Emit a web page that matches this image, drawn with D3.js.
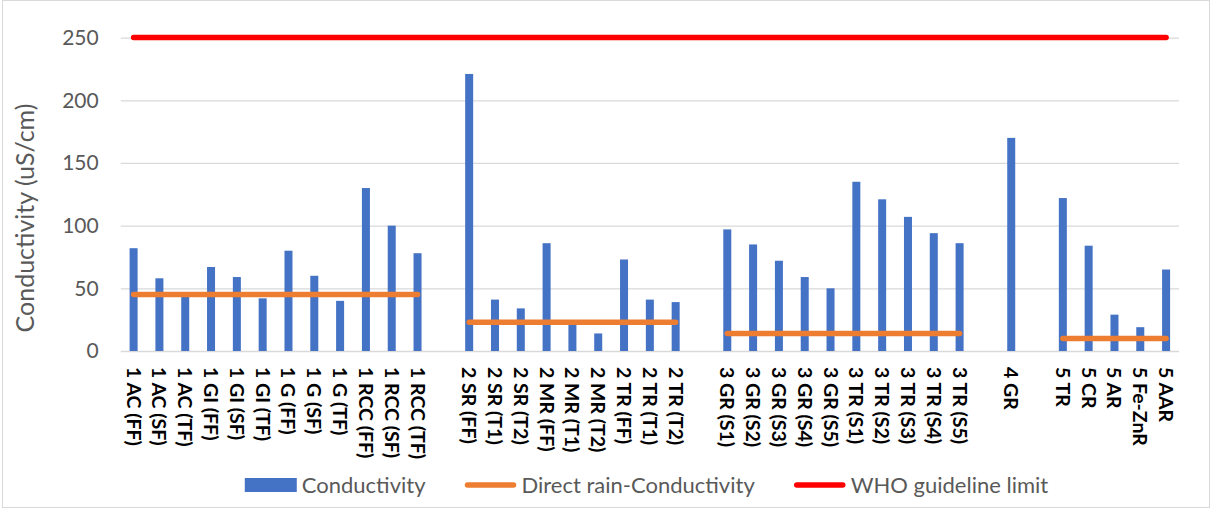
<!DOCTYPE html>
<html>
<head>
<meta charset="utf-8">
<script src="https://cdn.jsdelivr.net/npm/d3@7"></script>
<style>
  html, body { margin: 0; padding: 0; background: #fff; }
  svg { display: block; font-family: Lato, "Open Sans", sans-serif; }
</style>
</head>
<body>
<svg id="chart" width="1212" height="509"></svg>
<script>
// Sample sites (blank entries separate the site groups)
const categories = [
  "1 AC (FF)", "1 AC (SF)", "1 AC (TF)", "1 GI (FF)", "1 GI (SF)", "1 GI (TF)",
  "1 G (FF)", "1 G (SF)", "1 G (TF)", "1 RCC (FF)", "1 RCC (SF)", "1 RCC (TF)",
  "",
  "2 SR (FF)", "2 SR (T1)", "2 SR (T2)", "2 MR (FF)", "2 MR (T1)", "2 MR (T2)",
  "2 TR (FF)", "2 TR (T1)", "2 TR (T2)",
  "",
  "3 GR (S1)", "3 GR (S2)", "3 GR (S3)", "3 GR (S4)", "3 GR (S5)",
  "3 TR (S1)", "3 TR (S2)", "3 TR (S3)", "3 TR (S4)", "3 TR (S5)",
  "",
  "4 GR",
  "",
  "5 TR", "5 CR", "5 AR", "5 Fe-ZnR", "5 AAR"
];

// Measured conductivity of harvested water (uS/cm)
const conductivity = [
  82, 58, 44, 67, 59, 42, 80, 60, 40, 130, 100, 78,
  null,
  221, 41, 34, 86, 22, 14, 73, 41, 39,
  null,
  97, 85, 72, 59, 50, 135, 121, 107, 94, 86,
  null,
  170,
  null,
  122, 84, 29, 19, 65
];

// Conductivity of direct rain for each site group
const directRain = [
  45, 45, 45, 45, 45, 45, 45, 45, 45, 45, 45, 45,
  null,
  23, 23, 23, 23, 23, 23, 23, 23, 23,
  null,
  14, 14, 14, 14, 14, 14, 14, 14, 14, 14,
  null,
  null,
  null,
  10, 10, 10, 10, 10
];

// WHO guideline limit
const whoLimit = categories.map(() => 250);

const yTicks = [0, 50, 100, 150, 200, 250];

const seriesNames = ["Conductivity", "Direct rain-Conductivity", "WHO guideline limit"];
const colors = { bar: "#4472C4", rain: "#ED7D31", who: "#FF0000" };

const svg = d3.select("#chart");

// outer frame
svg.append("rect")
  .attr("x", 2.5).attr("y", 0.5)
  .attr("width", 1207).attr("height", 507)
  .attr("fill", "#fff").attr("stroke", "#d9d9d9").attr("stroke-width", 1);

const plot = { left: 120.7, right: 1179, top: 37.6, bottom: 351 };

const x = d3.scaleBand()
  .domain(d3.range(categories.length))
  .range([plot.left, plot.right]);

const y = d3.scaleLinear()
  .domain([0, 250])
  .range([plot.bottom, plot.top]);

// y axis with gridlines
const yAxis = svg.append("g")
  .attr("transform", `translate(${plot.left},0)`)
  .call(d3.axisLeft(y).tickValues(yTicks)
    .tickSize(-(plot.right - plot.left)).tickPadding(22));
yAxis.select(".domain").remove();
yAxis.selectAll(".tick line").attr("stroke", "#d9d9d9").attr("stroke-width", 1.3);
yAxis.selectAll(".tick text")
  .attr("fill", "#595959")
  .style("font-size", "21px")
  .style("font-family", "Lato, sans-serif");

// x axis labels
const xAxis = svg.append("g")
  .attr("transform", `translate(0,${plot.bottom})`)
  .call(d3.axisBottom(x).tickSize(0).tickFormat(i => categories[i]));
xAxis.select(".domain").remove();
xAxis.selectAll(".tick text")
  .attr("fill", "#000")
  .attr("text-anchor", "start")
  .attr("transform", "rotate(90)")
  .attr("x", 16).attr("y", 0).attr("dy", "0.36em")
  .style("font-size", "19.5px")
  .style("font-weight", "bold")
  .style("font-family", "Lato, sans-serif");

// bars
const barW = 8;
svg.append("g")
  .selectAll("rect")
  .data(conductivity.map((v, i) => ({ v, i })).filter(d => d.v !== null))
  .join("rect")
  .attr("x", d => x(d.i) + x.bandwidth() / 2 - barW / 2)
  .attr("y", d => y(d.v))
  .attr("width", barW)
  .attr("height", d => y(0) - y(d.v))
  .attr("fill", colors.bar);

// lines
const line = d3.line()
  .defined(d => d.v !== null)
  .x(d => x(d.i) + x.bandwidth() / 2)
  .y(d => y(d.v));

svg.append("path")
  .datum(directRain.map((v, i) => ({ v, i })))
  .attr("d", line)
  .attr("fill", "none")
  .attr("stroke", colors.rain)
  .attr("stroke-width", 5.5)
  .attr("stroke-linecap", "round");

svg.append("path")
  .datum(whoLimit.map((v, i) => ({ v, i })))
  .attr("d", line)
  .attr("fill", "none")
  .attr("stroke", colors.who)
  .attr("stroke-width", 5.5)
  .attr("stroke-linecap", "round");

// y axis title
svg.append("text")
  .attr("transform", "translate(34,218) rotate(-90)")
  .attr("text-anchor", "middle")
  .attr("fill", "#595959")
  .style("font-size", "25px")
  .style("font-family", "Lato, sans-serif")
  .text("Conductivity (uS/cm)");

// legend
const legend = svg.append("g");
const symW = 52, symGap = 5, itemGap = 39, legY = 485;
const items = legend.selectAll("g")
  .data(seriesNames)
  .join("g");
items.append("text")
  .attr("fill", "#595959")
  .style("font-size", "22px")
  .style("font-family", "Lato, sans-serif")
  .attr("y", legY + 7.5)
  .text(d => d);
const widths = [];
items.each(function () { widths.push(d3.select(this).select("text").node().getComputedTextLength()); });
const total = d3.sum(widths) + seriesNames.length * (symW + symGap) + (seriesNames.length - 1) * itemGap;
let cx = 646.5 - total / 2;
items.each(function (d, i) {
  const g = d3.select(this);
  if (i === 0) {
    g.append("rect").attr("x", cx).attr("y", legY - 7).attr("width", symW).attr("height", 14)
      .attr("fill", colors.bar);
  } else {
    g.append("line").attr("x1", cx + 3).attr("x2", cx + symW - 3)
      .attr("y1", legY).attr("y2", legY)
      .attr("stroke", i === 1 ? colors.rain : colors.who)
      .attr("stroke-width", 5.5).attr("stroke-linecap", "round");
  }
  g.select("text").attr("x", cx + symW + symGap);
  cx += symW + symGap + widths[i] + itemGap;
});
</script>
</body>
</html>
